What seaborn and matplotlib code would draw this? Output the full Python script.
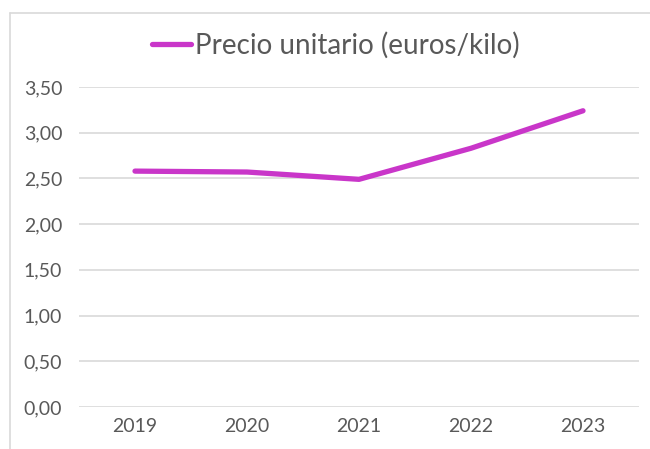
import matplotlib
matplotlib.use("Agg")
import matplotlib.pyplot as plt
import seaborn as sns
import pandas as pd
from matplotlib.lines import Line2D

years = ["2019", "2020", "2021", "2022", "2023"]
precio = [2.58, 2.57, 2.49, 2.83, 3.24]
yticks = [0.0, 0.5, 1.0, 1.5, 2.0, 2.5, 3.0, 3.5]
ytick_labels = ["0,00", "0,50", "1,00", "1,50", "2,00", "2,50", "3,00", "3,50"]
series_name = "Precio unitario (euros/kilo)"

sns.set_theme(style="white")
plt.rcParams['font.family'] = ['Lato', 'DejaVu Sans']

W, H = 650, 449
fig = plt.figure(figsize=(W / 100, H / 100), dpi=100)
ax = fig.add_axes([79 / W, (H - 407) / H, (639 - 79) / W, (407 - 87) / H])

df = pd.DataFrame({"year": years, "precio": precio})
sns.lineplot(data=df, x="year", y="precio", ax=ax, color="#C936C9",
             linewidth=3.8, solid_capstyle="round", label=series_name, sort=False)

ax.set_xlim(-0.5, len(years) - 0.5)
ax.set_ylim(0, 3.5)
ax.set_yticks(yticks)
ax.set_yticklabels(ytick_labels)
ax.set_xlabel("")
ax.set_ylabel("")
ax.grid(axis="y", color="#D9D9D9", linewidth=1.2)
ax.set_axisbelow(True)
for s in ax.spines.values():
    s.set_visible(False)
ax.tick_params(axis="both", length=0, labelsize=14, labelcolor="#595959", pad=8)
ax.tick_params(axis="y", pad=12)

leg = ax.legend(loc="center", bbox_to_anchor=(336 / W, (H - 45) / H),
                bbox_transform=fig.transFigure, frameon=False, fontsize=20,
                handlelength=1.4, handletextpad=0.15)
for t in leg.get_texts():
    t.set_color("#595959")

# outer chart frame (left and top edges visible)
fig.add_artist(Line2D([9.5 / W, 9.5 / W], [0, (H - 12.5) / H], transform=fig.transFigure,
                      color="#D9D9D9", linewidth=1.2))
fig.add_artist(Line2D([9.5 / W, 1], [(H - 12.5) / H, (H - 12.5) / H], transform=fig.transFigure,
                      color="#D9D9D9", linewidth=1.2))

fig.savefig("out.png", dpi=100)
